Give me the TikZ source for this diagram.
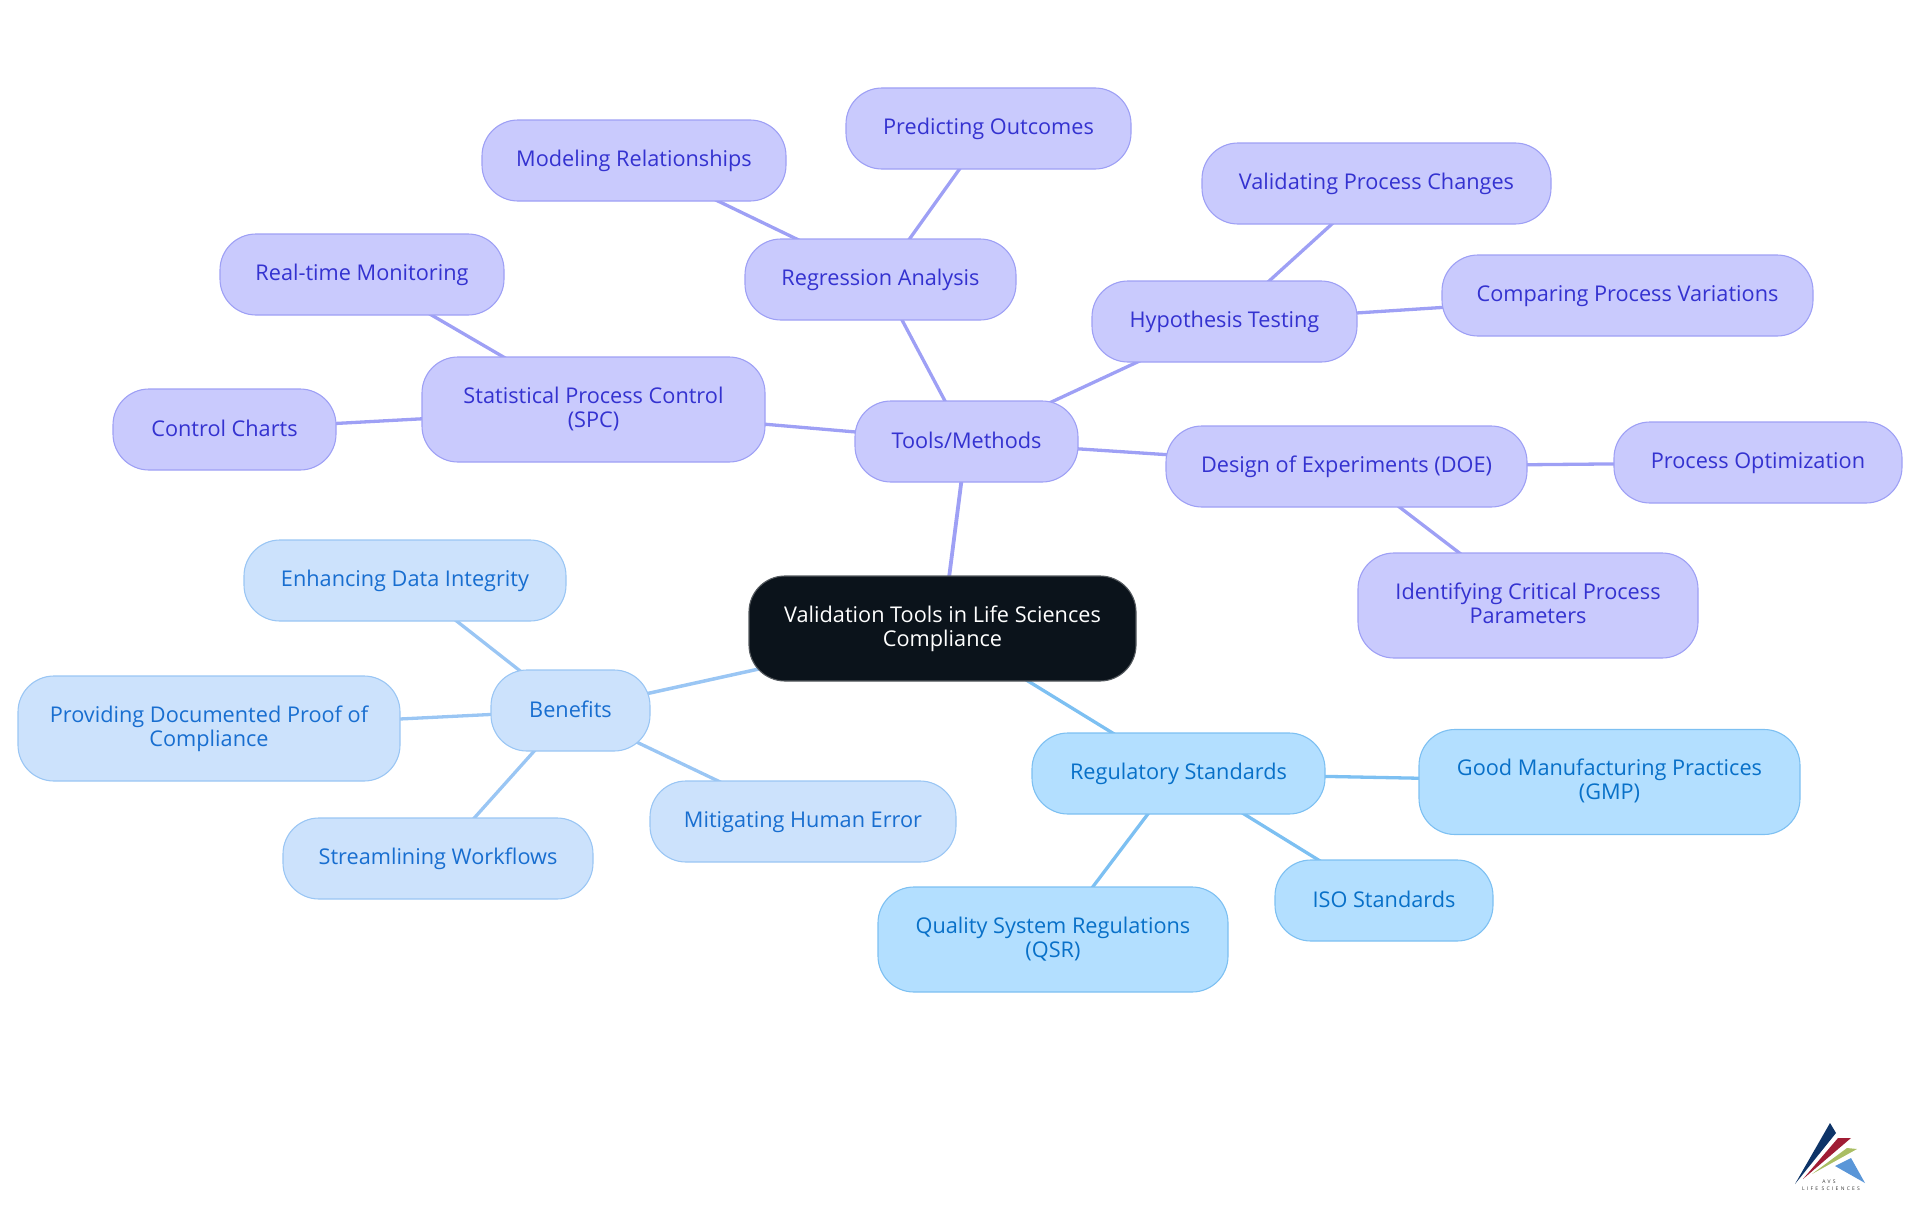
\documentclass[tikz,border=0pt]{standalone}
\usepackage{fontspec}
\setmainfont{Open Sans}
\usetikzlibrary{backgrounds}
\definecolor{toolfill}{RGB}{201,202,253}
\definecolor{tooldraw}{RGB}{158,160,245}
\definecolor{tooltext}{RGB}{52,50,208}
\definecolor{benefill}{RGB}{204,226,252}
\definecolor{benedraw}{RGB}{154,198,244}
\definecolor{benetext}{RGB}{24,110,208}
\definecolor{regfill}{RGB}{179,223,255}
\definecolor{regdraw}{RGB}{125,192,242}
\definecolor{regtext}{RGB}{8,112,200}
\definecolor{rootfill}{RGB}{11,19,27}
\definecolor{rootdraw}{RGB}{85,90,95}

\begin{document}
\begin{tikzpicture}[x=1pt, y=-1pt,
	mapbox/.style={font=\fontsize{21.7}{24}\selectfont, align=center, inner sep=0pt, rounded corners=36pt, line width=1.1pt, minimum height=81pt, execute at begin node={\rule[-3pt]{0pt}{20pt}}},
	tall/.style={minimum height=105pt, execute at end node={\rule[-4.8pt]{0pt}{1pt}}},
	toolbox/.style={mapbox, draw=tooldraw, fill=toolfill, text=tooltext},
	benebox/.style={mapbox, draw=benedraw, fill=benefill, text=benetext},
	regbox/.style={mapbox, draw=regdraw, fill=regfill, text=regtext},
	logotext/.style={inner sep=0pt, font=\fontsize{5}{6}\selectfont\addfontfeatures{LetterSpace=45}, text=black!80}]
\useasboundingbox (0,0) rectangle (1920,1215);

\node[mapbox, draw=rootdraw, fill=rootfill, text=white, tall, minimum width=387pt] (root) at (942.5,628.5) {Validation Tools in Life Sciences\\Compliance};

\node[toolbox, minimum width=223pt] (tools) at (966.5,441.5) {Tools/Methods};
\node[toolbox, tall, minimum width=343pt] (spc) at (593.5,409.5) {Statistical Process Control\\(SPC)};
\node[toolbox, minimum width=284pt] (realtime) at (362,274.5) {Real-time Monitoring};
\node[toolbox, minimum width=223pt] (charts) at (224.5,429.5) {Control Charts};
\node[toolbox, minimum width=271pt] (regression) at (880.5,279.5) {Regression Analysis};
\node[toolbox, minimum width=304pt] (modeling) at (634,160.5) {Modeling Relationships};
\node[toolbox, minimum width=285pt] (predicting) at (988.5,128.5) {Predicting Outcomes};
\node[toolbox, minimum width=265pt] (hypothesis) at (1224.5,321.5) {Hypothesis Testing};
\node[toolbox, minimum width=349pt] (validating) at (1376.5,183.5) {Validating Process Changes};
\node[toolbox, minimum width=371pt] (comparing) at (1627.5,295.5) {Comparing Process Variations};
\node[toolbox, minimum width=361pt] (doe) at (1346.5,466.5) {Design of Experiments (DOE)};
\node[toolbox, minimum width=288pt] (optimization) at (1758,462.5) {Process Optimization};
\node[toolbox, tall, minimum width=340pt] (critical) at (1528,605.5) {Identifying Critical Process\\Parameters};

\node[benebox, minimum width=159pt] (benefits) at (570.5,710.5) {Benefits};
\node[benebox, minimum width=322pt] (integrity) at (405,580.5) {Enhancing Data Integrity};
\node[benebox, tall, minimum width=382pt] (proof) at (209,728.5) {Providing Documented Proof of\\Compliance};
\node[benebox, minimum width=310pt] (workflows) at (438,858.5) {Streamlining Workflows};
\node[benebox, minimum width=306pt] (humanerror) at (803,821.5) {Mitigating Human Error};

\node[regbox, minimum width=293pt] (regulatory) at (1178.5,773.5) {Regulatory Standards};
\node[regbox, tall, minimum width=381pt] (gmp) at (1609.5,782) {Good Manufacturing Practices\\(GMP)};
\node[regbox, minimum width=218pt] (iso) at (1384,900.5) {ISO Standards};
\node[regbox, tall, minimum width=350pt] (qsr) at (1053,939.5) {Quality System Regulations\\(QSR)};

\begin{scope}[on background layer]
\draw[line width=3.8pt, tooldraw] (root.center) -- (tools.center);
\draw[line width=3.5pt, benedraw] (root.center) -- (benefits.center);
\draw[line width=3.3pt, regdraw] (root.center) -- (regulatory.center);
\foreach \a/\b in {tools/spc,tools/regression,tools/hypothesis,tools/doe,spc/realtime,spc/charts,regression/modeling,regression/predicting,hypothesis/validating,hypothesis/comparing,doe/optimization,doe/critical}
	\draw[line width=3.3pt, tooldraw] (\a.center) -- (\b.center);
\foreach \b in {integrity,proof,workflows,humanerror}
	\draw[line width=3.3pt, benedraw] (benefits.center) -- (\b.center);
\foreach \b in {gmp,iso,qsr}
	\draw[line width=3.3pt, regdraw] (regulatory.center) -- (\b.center);
\end{scope}

% logo
\fill[fill={rgb,255:red,14;green,52;blue,104}] (1830,1123) -- (1836,1133) -- (1795,1184) -- cycle;
\fill[fill={rgb,255:red,160;green,28;blue,52}] (1838,1138) -- (1851,1138) -- (1803,1179) -- cycle;
\fill[fill={rgb,255:red,170;green,190;blue,100}] (1847,1148) -- (1857,1149) -- (1812,1174) -- cycle;
\fill[fill={rgb,255:red,90;green,150;blue,216}] (1851,1158) -- (1865,1183) -- (1835,1166) -- cycle;
\node[logotext] (logoa) at (1829,1182) {AVS};
\node[logotext] (logob) at (1831,1189) {LIFE SCIENCES};
\end{tikzpicture}
\end{document}
